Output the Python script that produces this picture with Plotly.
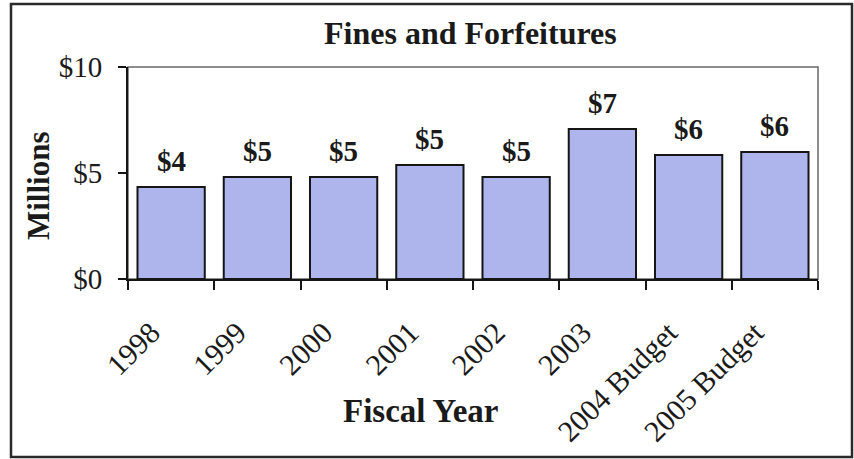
import plotly.graph_objects as go

categories = ["1998", "1999", "2000", "2001", "2002", "2003", "2004 Budget", "2005 Budget"]
values = [4.34, 4.81, 4.81, 5.38, 4.81, 7.08, 5.85, 5.99]
labels = [f"${v:.0f}" for v in values]

FONT = "Liberation Serif, Times New Roman, serif"
INK = "#1a1a1a"
W, H = 854, 459
L, R, T, B = 128, 36, 67, 180
pw, ph = W - L - R, H - T - B

def px_x(px):
    return (px - L) / pw

def px_y(py):
    return (H - B - py) / ph

fig = go.Figure()
fig.add_trace(go.Bar(
    x=categories, y=values,
    marker=dict(color="#adb5ec", line=dict(color="#151515", width=2)),
    hoverinfo="skip",
))

# data labels above bars (x by category index)
for i, (v, t) in enumerate(zip(values, labels)):
    fig.add_annotation(x=i, y=v, text=f"<b>{t}</b>", showarrow=False,
                       xanchor="center", yanchor="bottom",
                       yshift=8, font=dict(family=FONT, size=29, color=INK),
                       xref="x", yref="y")

def free_text(text, x, y, size, angle=0):
    fig.add_annotation(text=text, x=px_x(x), y=px_y(y), xref="paper", yref="paper",
                       xanchor="center", yanchor="middle", showarrow=False,
                       textangle=angle, font=dict(family=FONT, size=size, color=INK))

free_text("<b>Fines and Forfeitures</b>", 470, 33, 32)
free_text("<b>Millions</b>", 38, 186, 31, angle=-90)
free_text("<b>Fiscal Year</b>", 420, 411, 33)

# plot-area border (thin gray) and outer frame
fig.add_shape(type="rect", xref="paper", yref="paper", x0=0, x1=1, y0=0, y1=1,
              line=dict(color="#6a6a6a", width=1.5), layer="below")
fig.add_shape(type="rect", xref="paper", yref="paper",
              x0=px_x(11), x1=px_x(852), y0=px_y(457), y1=px_y(4),
              line=dict(color="#2a2a2a", width=2.5))

fig.update_layout(
    width=W, height=H,
    margin=dict(l=L, r=R, t=T, b=B, autoexpand=False),
    paper_bgcolor="white", plot_bgcolor="white",
    bargap=0.22, showlegend=False,
    xaxis=dict(
        type="category", range=[-0.5, len(categories) - 0.5], automargin=False,
        tickangle=-45, tickson="boundaries",
        ticks="outside", ticklen=9, tickwidth=2, tickcolor="#151515",
        showline=True, linecolor="#151515", linewidth=2,
        showgrid=False, zeroline=False,
        ticklabelstandoff=22, ticklabelshift=-20,
        tickfont=dict(family=FONT, size=30, color=INK),
    ),
    yaxis=dict(
        range=[0, 10], dtick=5, tickprefix="$", automargin=False,
        ticks="outside", ticklen=8, tickwidth=2, tickcolor="#151515",
        showline=True, linecolor="#151515", linewidth=2,
        showgrid=False, zeroline=False, ticklabelstandoff=10,
        tickfont=dict(family=FONT, size=29, color=INK),
    ),
)

fig.write_html("out.html")
